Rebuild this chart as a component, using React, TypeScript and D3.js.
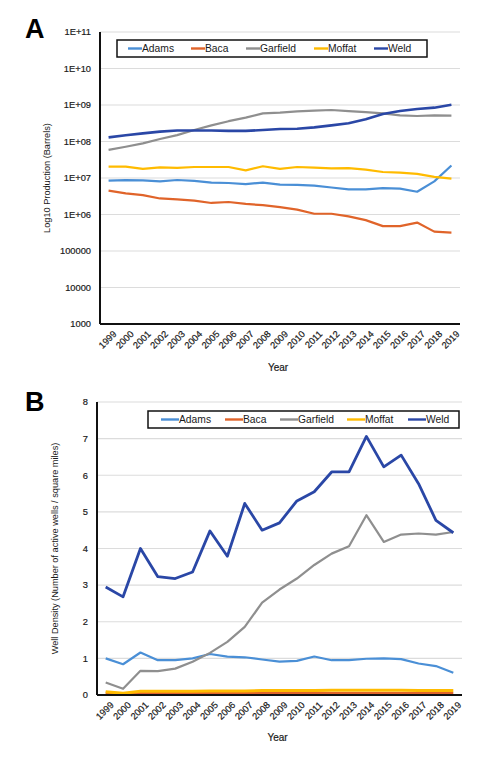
import React from "react";
import * as d3 from "d3";

const years = d3.range(1999, 2020).map(String);
const counties = ["Adams", "Baca", "Garfield", "Moffat", "Weld"];
const colors = ["#4a8fd6", "#e0642a", "#8f8f8f", "#ffbb00", "#2a47a6"];

// Panel A: production (barrels), log scale
const prodAdams = [8.45e6, 8.8e6, 8.6e6, 8.1e6, 8.8e6, 8.3e6, 7.5e6, 7.3e6, 6.8e6, 7.5e6, 6.6e6, 6.5e6, 6.2e6, 5.5e6, 4.9e6, 4.9e6, 5.3e6, 5.1e6, 4.2e6, 8.1e6, 2.2e7];
const prodBaca = [4.5e6, 3.8e6, 3.4e6, 2.75e6, 2.6e6, 2.4e6, 2.07e6, 2.2e6, 1.95e6, 1.8e6, 1.6e6, 1.36e6, 1.05e6, 1.05e6, 8.9e5, 7.0e5, 4.8e5, 4.8e5, 6.0e5, 3.4e5, 3.2e5];
const prodGarfield = [5.9e7, 7.2e7, 8.9e7, 1.17e8, 1.5e8, 2.07e8, 2.77e8, 3.6e8, 4.5e8, 5.9e8, 6.2e8, 6.7e8, 7.0e8, 7.3e8, 6.8e8, 6.4e8, 5.9e8, 5.2e8, 5.0e8, 5.2e8, 5.1e8];
const prodMoffat = [2.05e7, 2.05e7, 1.78e7, 1.95e7, 1.9e7, 2.0e7, 2.0e7, 2.0e7, 1.62e7, 2.1e7, 1.78e7, 2.0e7, 1.93e7, 1.83e7, 1.87e7, 1.7e7, 1.46e7, 1.4e7, 1.3e7, 1.07e7, 9.6e6];
const prodWeld = [1.3e8, 1.48e8, 1.67e8, 1.86e8, 2.0e8, 2.0e8, 2.0e8, 1.95e8, 1.95e8, 2.07e8, 2.2e8, 2.24e8, 2.44e8, 2.77e8, 3.15e8, 4.06e8, 5.67e8, 6.85e8, 7.77e8, 8.45e8, 1.02e9];
const prodTicks = [1e3, 1e4, 1e5, 1e6, 1e7, 1e8, 1e9, 1e10, 1e11];
const prodTickLabels = ["1000", "10000", "100000", "1E+06", "1E+07", "1E+08", "1E+09", "1E+10", "1E+11"];

// Panel B: well density
const densAdams = [1.0, 0.84, 1.16, 0.95, 0.95, 1.0, 1.12, 1.05, 1.03, 0.97, 0.91, 0.93, 1.05, 0.95, 0.95, 0.99, 1.0, 0.98, 0.86, 0.79, 0.61];
const densBaca = [0.06, 0.03, 0.06, 0.06, 0.06, 0.06, 0.06, 0.06, 0.06, 0.06, 0.06, 0.06, 0.06, 0.05, 0.05, 0.05, 0.05, 0.05, 0.05, 0.05, 0.05];
const densGarfield = [0.34, 0.17, 0.66, 0.65, 0.72, 0.91, 1.15, 1.45, 1.86, 2.52, 2.88, 3.18, 3.55, 3.86, 4.06, 4.91, 4.18, 4.38, 4.41, 4.38, 4.45];
const densMoffat = [0.09, 0.05, 0.1, 0.1, 0.1, 0.1, 0.11, 0.11, 0.11, 0.12, 0.12, 0.12, 0.12, 0.13, 0.13, 0.13, 0.13, 0.13, 0.12, 0.12, 0.12];
const densWeld = [2.95, 2.68, 4.0, 3.23, 3.18, 3.36, 4.48, 3.79, 5.23, 4.5, 4.7, 5.3, 5.55, 6.09, 6.09, 7.06, 6.23, 6.55, 5.77, 4.77, 4.43];
const densTicks = [0, 1, 2, 3, 4, 5, 6, 7, 8];

const prodSeries = [prodAdams, prodBaca, prodGarfield, prodMoffat, prodWeld];
const densSeries = [densAdams, densBaca, densGarfield, densMoffat, densWeld];

const FONT = "'Liberation Sans', Arial, sans-serif";
const TXT = "#1a1a1a";

type PanelProps = {
  series: number[][];
  y: any;
  ticks: number[];
  tickLabels: string[];
  x0: number;
  x1: number;
  legend: { x0: number; x1: number; y: number; items: number[]; lineLen: number; fs: number };
  letter: string;
  letterY: number;
  yTitle: string;
  yTitleX: number;
  yearY: number;
  lineWidths: number[];
};

function Panel(p: PanelProps) {
  const x = d3.scalePoint<string>().domain(years).range([p.x0, p.x1]).padding(0.5);
  const [yBottom, yTop] = p.y.range();
  const line = d3
    .line<number>()
    .x((_, i) => x(years[i]) as number)
    .y((d) => p.y(d));
  const yMid = (yBottom + yTop) / 2;
  const textStyle = { stroke: TXT, strokeWidth: 0.2 };
  return (
    <g>
      <text x={25} y={p.letterY} fontSize={27} fontWeight="bold" fontFamily={FONT} fill="#000">
        {p.letter}
      </text>
      {p.ticks.map((t, i) => (
        <g key={i}>
          {i > 0 && <line x1={p.x0} x2={p.x1} y1={p.y(t)} y2={p.y(t)} stroke="#dcdcdc" strokeWidth={1.2} />}
          <text x={p.x0 - 9} y={p.y(t)} dy="0.35em" textAnchor="end" fontSize={9.3} fontFamily={FONT} fill={TXT} style={textStyle}>
            {p.tickLabels[i]}
          </text>
        </g>
      ))}
      {p.series.map((s, i) => (
        <path key={i} d={line(s) || ""} fill="none" stroke={colors[i]} strokeWidth={p.lineWidths[i]} strokeLinejoin="round" />
      ))}
      <line x1={p.x0} x2={p.x0} y1={yTop} y2={yBottom} stroke="#111" strokeWidth={2} />
      <line x1={p.x0} x2={p.x1} y1={yBottom} y2={yBottom} stroke="#111" strokeWidth={2} />
      {years.map((yr) => (
        <text
          key={yr}
          transform={`translate(${(x(yr) as number) + 4},${yBottom + 6}) rotate(-45)`}
          textAnchor="end"
          dy="0.7em"
          fontSize={9.3}
          fontFamily={FONT}
          fill={TXT}
          style={textStyle}
        >
          {yr}
        </text>
      ))}
      <text x={(p.x0 + p.x1) / 2 - 2} y={p.yearY} textAnchor="middle" fontSize={10} fontFamily={FONT} fill={TXT} style={textStyle}>
        Year
      </text>
      <text
        transform={`translate(${p.yTitleX},${yMid}) rotate(-90)`}
        textAnchor="middle"
        dy="0.35em"
        fontSize={9.2}
        fontFamily={FONT}
        fill={TXT}
      >
        {p.yTitle}
      </text>
      <rect x={p.legend.x0} y={p.legend.y} width={p.legend.x1 - p.legend.x0} height={17} fill="#fff" stroke="#111" strokeWidth={1.5} />
      {counties.map((c, i) => (
        <g key={c}>
          <line
            x1={p.legend.items[i]}
            x2={p.legend.items[i] + p.legend.lineLen}
            y1={p.legend.y + 8.5}
            y2={p.legend.y + 8.5}
            stroke={colors[i]}
            strokeWidth={2.4}
          />
          <text x={p.legend.items[i] + p.legend.lineLen} y={p.legend.y + 8.5} dy="0.35em" fontSize={p.legend.fs} fontFamily={FONT} fill={TXT}>
            {c}
          </text>
        </g>
      ))}
    </g>
  );
}

export default function App() {
  const yA = d3.scaleLog().domain([1e3, 1e11]).range([324, 32]);
  const yB = d3.scaleLinear().domain([0, 8]).range([695, 402]);
  return (
    <svg width={500} height={760} style={{ position: "absolute", left: 0, top: 0, background: "#fff" }}>
      <rect width={500} height={760} fill="#fff" />
      <Panel
        series={prodSeries}
        y={yA}
        ticks={prodTicks}
        tickLabels={prodTickLabels}
        x0={100}
        x1={460}
        legend={{ x0: 117, x1: 427, y: 40, items: [128, 191, 246, 314, 374], lineLen: 14, fs: 10.3 }}
        letter="A"
        letterY={38}
        yTitle="Log10 Production (Barrels)"
        yTitleX={47}
        yearY={371}
        lineWidths={[2.2, 2.2, 2.2, 2.2, 2.6]}
      />
      <Panel
        series={densSeries}
        y={yB}
        ticks={densTicks}
        tickLabels={densTicks.map(String)}
        x0={97}
        x1={462}
        legend={{ x0: 148, x1: 459, y: 411, items: [161, 225, 280, 347, 408], lineLen: 18, fs: 10.3 }}
        letter="B"
        letterY={411}
        yTitle="Well Density (Number of active wells / square miles)"
        yTitleX={55}
        yearY={741}
        lineWidths={[2.2, 2.4, 2.2, 3, 2.8]}
      />
    </svg>
  );
}
